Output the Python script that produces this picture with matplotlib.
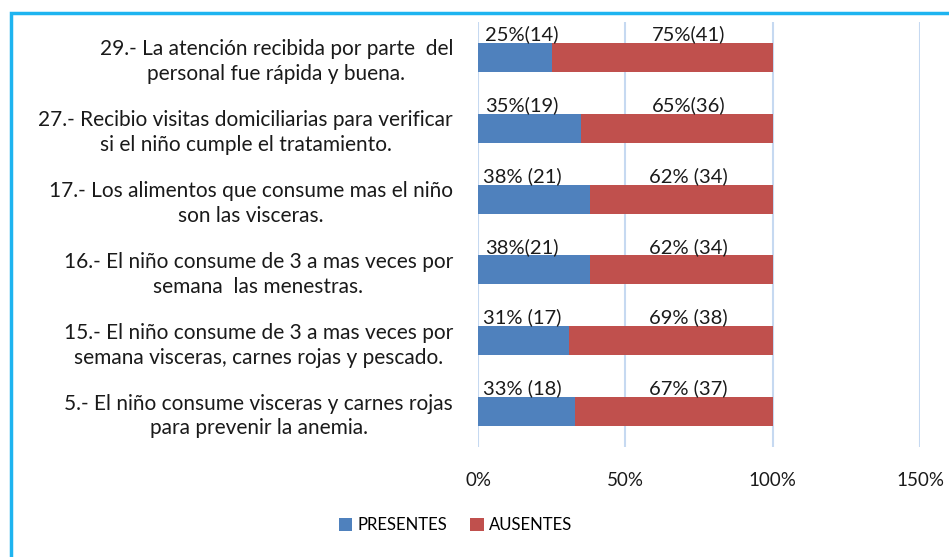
# Stacked horizontal bars: PRESENTES / AUSENTES per item

import matplotlib
matplotlib.use('Agg')
import matplotlib.pyplot as plt
from matplotlib.patches import Rectangle
import numpy as np

plt.rcParams['font.family'] = ['Lato', 'DejaVu Sans']

# data (bottom to top)
items = ['5.- El niño consume visceras y carnes rojas\npara prevenir la anemia.',
         '15.- El niño consume de 3 a mas veces por\nsemana visceras, carnes rojas y pescado.',
         '16.- El niño consume de 3 a mas veces por\nsemana  las menestras.',
         '17.- Los alimentos que consume mas el niño\nson las visceras.',
         '27.- Recibio visitas domiciliarias para verificar\nsi el niño cumple el tratamiento.',
         '29.- La atención recibida por parte  del\npersonal fue rápida y buena.']
presentes = [33, 31, 38, 38, 35, 25]
ausentes = [67, 69, 62, 62, 65, 75]
presentes_lbl = ['33% (18)', '31% (17)', '38%(21)', '38% (21)', '35%(19)', '25%(14)']
ausentes_lbl = ['67% (37)', '69% (38)', '62% (34)', '62% (34)', '65%(36)', '75%(41)']
xticks = [0, 50, 100, 150]

blue = '#4F81BD'
red = '#C0504D'
txt = '#1a1a1a'

fig = plt.figure(figsize=(9.49, 5.57), dpi=100)
ax = fig.add_axes([0.5037, 0.1975, 0.4657, 0.763])

y = np.arange(len(items))
p = np.array(presentes) / 100
a = np.array(ausentes) / 100
ax.barh(y, p, height=0.41, color=blue, label='PRESENTES', zorder=2)
ax.barh(y, a, left=p, height=0.41, color=red, label='AUSENTES', zorder=2)

# value labels above each segment
for i in range(len(items)):
    ax.text(0.15, i + 0.2, presentes_lbl[i], ha='center', va='bottom',
            fontsize=14.5, color=txt)
    ax.text(0.715, i + 0.2, ausentes_lbl[i], ha='center', va='bottom',
            fontsize=14.5, color=txt)

ax.set_xlim(0, 1.5)
ax.set_ylim(-0.5, len(items) - 0.5)
ax.set_xticks(np.array(xticks) / 100)
ax.set_xticklabels(['%d%%' % t for t in xticks], fontsize=13.5, color=txt)
ax.set_yticks(y)
ax.set_yticklabels(items, fontsize=15, color=txt, multialignment='center',
                   linespacing=1.3)
ax.tick_params(axis='both', length=0)
ax.tick_params(axis='x', pad=18)
ax.tick_params(axis='y', pad=18)
for s in ax.spines.values():
    s.set_visible(False)
ax.grid(axis='x', color='#C6D9F1', linewidth=1.5, zorder=0)
ax.set_axisbelow(True)

leg = fig.legend(loc='center', bbox_to_anchor=(0.48, 0.057), ncol=2, frameon=False,
                 fontsize=12, handlelength=0.8, handleheight=0.8, handletextpad=0.3,
                 columnspacing=1.4)

# cyan frame (only top and left edges fall inside the picture)
fig.patches.append(Rectangle((0.0116, -0.05), 1.2, 1.0267, transform=fig.transFigure,
                             fill=False, edgecolor='#1EB4F0', linewidth=2.5))

fig.savefig('out.png', dpi=100)
